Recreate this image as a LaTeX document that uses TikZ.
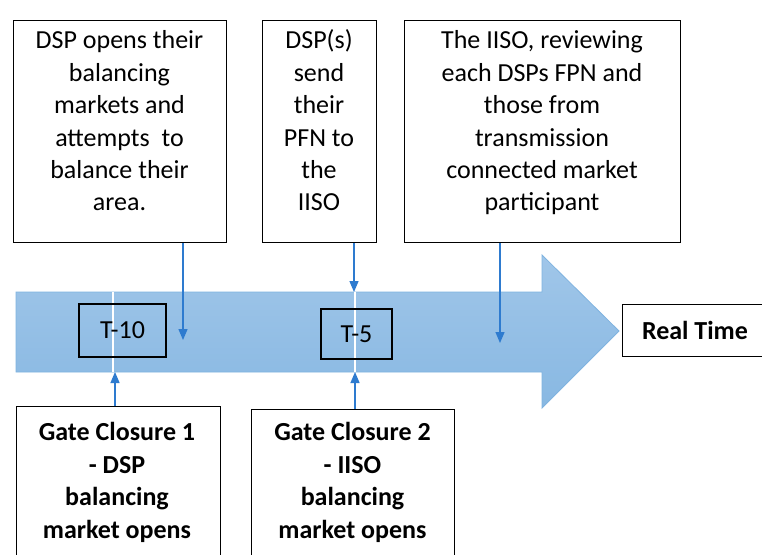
\documentclass[tikz,border=0pt]{standalone}
\usepackage{fontspec}
\setmainfont{Carlito}
\usetikzlibrary{arrows.meta}
\definecolor{arrtop}{HTML}{A0C6E9}
\definecolor{arrbot}{HTML}{88B8E2}
\definecolor{arredge}{HTML}{7FB3E0}
\definecolor{conncol}{HTML}{2E7BCF}
\begin{document}
\begin{tikzpicture}[x=1pt,y=-1pt,
  boxst/.style={draw=black, line width=1.3pt, inner sep=0pt, anchor=north west},
  txt/.style={inner sep=0pt, align=center, anchor=north, font=\fontsize{26}{32.4}\selectfont},
  btxt/.style={txt, font=\fontsize{26}{32.4}\selectfont\bfseries},
  conn/.style={draw=conncol, line width=1.3pt, -{Triangle[width=9pt,length=11pt]}},
  tbox/.style={draw=black, line width=1.3pt, inner sep=0pt, font=\fontsize{26}{32.4}\selectfont}
]
\useasboundingbox (0,0) rectangle (762,554);
\fill[white] (0,0) rectangle (762,554);

% big arrow
\path[draw=arredge, line width=0.8pt, top color=arrtop, bottom color=arrbot]
  (16,292) -- (542,292) -- (542,255) -- (619,331) -- (542,408) -- (542,372) -- (16,372) -- cycle;
\coordinate (w1t) at (113,292);
\coordinate (w1b) at (113,372);
\coordinate (w2t) at (355,292);
\coordinate (w2b) at (355,372);
\draw[white, line width=1.5pt] (w1t) -- (w1b);
\draw[white, line width=1.5pt] (w2t) -- (w2b);

% top boxes
\node[boxst, minimum width=213pt, minimum height=222pt] (b1) at (13,20) {};
\node[txt] (b1t) at (119.5,26) {\strut DSP opens their\\balancing\\markets and\\attempts\ \ to\\balance their\\area.};
\node[boxst, minimum width=114pt, minimum height=222pt] (b2) at (262,20) {};
\node[txt] (b2t) at (319,26) {\strut DSP(s)\\send\\their\\PFN to\\the\\IISO};
\node[boxst, minimum width=276pt, minimum height=222pt] (b3) at (404,20) {};
\node[txt] (b3t) at (542,26) {\strut The IISO, reviewing\\each DSPs FPN and\\those from\\transmission\\connected market\\participant};

% T boxes
\node[tbox, minimum width=87pt, minimum height=53pt] (t10) at (122.5,330.5) {T-10};
\node[tbox, minimum width=71pt, minimum height=50pt] (t5) at (356.5,334) {T-5};

% Real time
\node[boxst, minimum width=150pt, minimum height=52pt] (rt) at (622,304) {};
\node[btxt, anchor=center] (rtt) at (695,330) {Real Time};

% bottom boxes
\node[boxst, minimum width=204pt, minimum height=160pt] (g1) at (16,406) {};
\node[btxt] (g1t) at (117,418) {\strut Gate Closure 1\\- DSP\\balancing\\market opens};
\node[boxst, minimum width=203pt, minimum height=160pt] (g2) at (251,409) {};
\node[btxt] (g2t) at (352.5,418) {\strut Gate Closure 2\\- IISO\\balancing\\market opens};

% connectors
\coordinate (c1) at (183,340);
\coordinate (c2) at (354,292);
\coordinate (c3) at (500,343);
\coordinate (u1) at (115,372);
\coordinate (u2) at (355,372);
\draw[conn] (b1.south -| c1) -- (c1);
\draw[conn] (b2.south -| c2) -- (c2);
\draw[conn] (b3.south -| c3) -- (c3);
\draw[conn] (g1.north -| u1) -- (u1);
\draw[conn] (g2.north -| u2) -- (u2);
\end{tikzpicture}
\end{document}
